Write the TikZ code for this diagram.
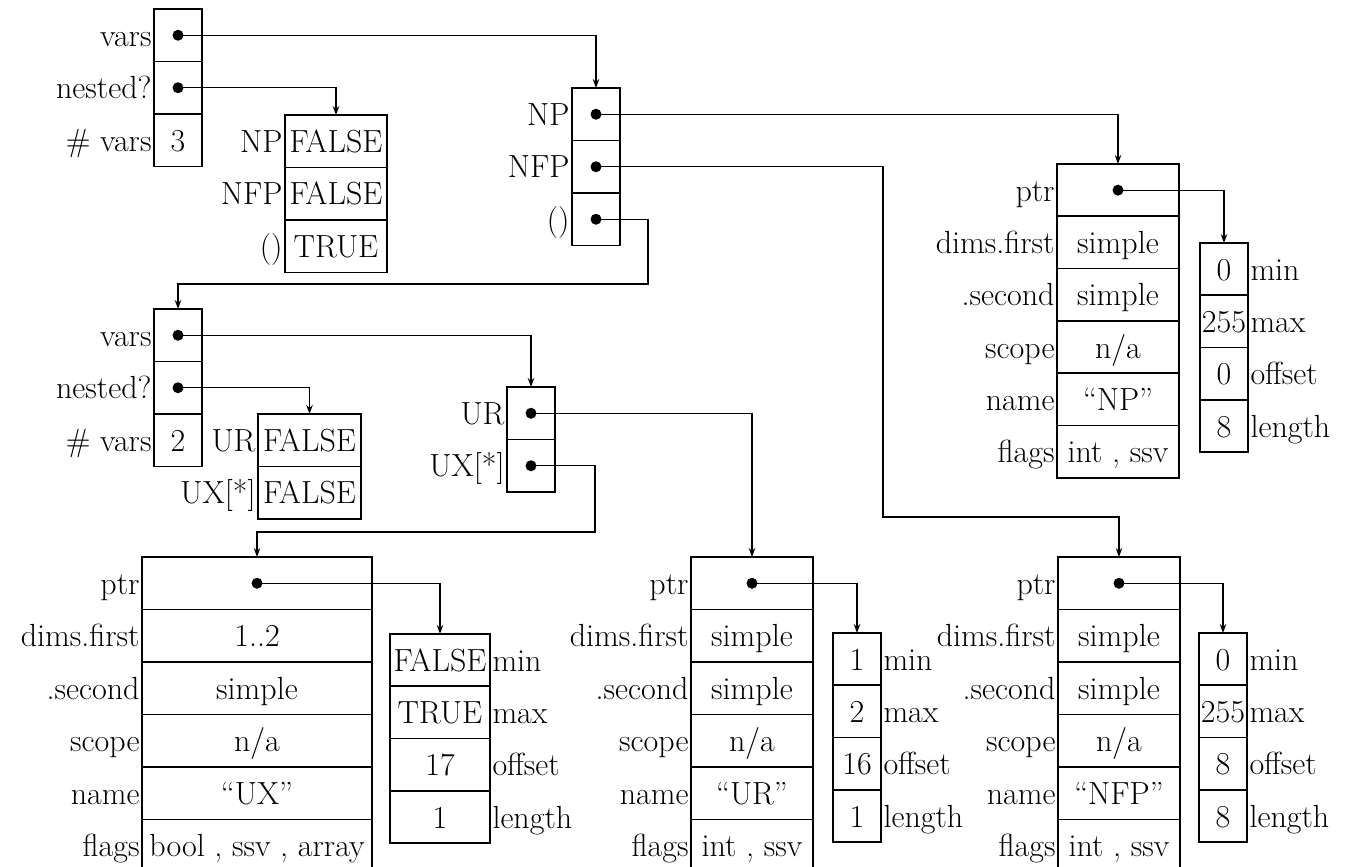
\documentclass[tikz,border=0pt]{standalone}
\usetikzlibrary{arrows.meta}
\newcommand\dgfont{\fontsize{32}{38}\selectfont}
\begin{document}
\begin{tikzpicture}[x=1pt,y=-1pt,
  cell/.style={draw, line width=1.7pt, rectangle, inner sep=0pt, outer sep=0pt,
    minimum height=52.5pt, text height=23pt, text depth=1pt, font=\dgfont},
  cellr/.style={cell, minimum height=52.3pt},
  narrow/.style={minimum width=48pt},
  boolw/.style={minimum width=102pt},
  wide/.style={minimum width=122pt},
  big/.style={minimum width=230pt},
  rng/.style={minimum width=100pt},
  lab/.style={inner xsep=2.5pt, inner ysep=0pt, outer sep=0pt, text height=23pt, text depth=1pt, font=\dgfont},
  labl/.style={lab, anchor=east},
  labr/.style={lab, anchor=west},
  ptr/.style={line width=1.3pt, -{Stealth[length=9pt,width=6.5pt]}},
  dot/.style={fill, circle, inner sep=0pt, minimum size=11pt}
]
\path[use as bounding box] (0,0) rectangle (1353,867);
\clip (0,0) rectangle (1353,867);

% ---- block A
\node[cell,narrow] (A1) at (178,35.25) {};
\node[cell,narrow] (A2) at (178,87.75) {};
\node[cell,narrow] (A3) at (178,140.25) {3};
\node[labl] (lA1) at (A1.west) {vars};
\node[labl] (lA2) at (A2.west) {nested?};
\node[labl] (lA3) at (A3.west) {\# vars};
\node[dot] (pA1) at (A1.center) {};
\node[dot] (pA2) at (A2.center) {};

% ---- block B
\node[cell,boolw] (B1) at (336,141.25) {FALSE};
\node[cell,boolw] (B2) at (336,193.75) {FALSE};
\node[cell,boolw] (B3) at (336,246.25) {TRUE};
\node[labl] (lB1) at (B1.west) {NP};
\node[labl] (lB2) at (B2.west) {NFP};
\node[labl] (lB3) at (B3.west) {()};

% ---- block C
\node[cell,narrow] (C1) at (596,114.25) {};
\node[cell,narrow] (C2) at (596,166.75) {};
\node[cell,narrow] (C3) at (596,219.25) {};
\node[labl] (lC1) at (C1.west) {NP};
\node[labl] (lC2) at (C2.west) {NFP};
\node[labl] (lC3) at (C3.west) {()};
\node[dot] (pC1) at (C1.center) {};
\node[dot] (pC2) at (C2.center) {};
\node[dot] (pC3) at (C3.center) {};

% ---- block E
\node[cell,narrow] (E1) at (178,335.25) {};
\node[cell,narrow] (E2) at (178,387.75) {};
\node[cell,narrow] (E3) at (178,440.25) {2};
\node[labl] (lE1) at (E1.west) {vars};
\node[labl] (lE2) at (E2.west) {nested?};
\node[labl] (lE3) at (E3.west) {\# vars};
\node[dot] (pE1) at (E1.center) {};
\node[dot] (pE2) at (E2.center) {};

% ---- block F
\node[cell,minimum width=103pt] (F1) at (309.5,440.25) {FALSE};
\node[cell,minimum width=103pt] (F2) at (309.5,492.75) {FALSE};
\node[labl] (lF1) at (F1.west) {UR};
\node[labl] (lF2) at (F2.west) {UX[*]};

% ---- block D
\node[cell,narrow] (D1) at (531,413.25) {};
\node[cell,narrow] (D2) at (531,465.75) {};
\node[labl] (lD1) at (D1.west) {UR};
\node[labl] (lD2) at (D2.west) {UX[*]};
\node[dot] (pD1) at (D1.center) {};
\node[dot] (pD2) at (D2.center) {};

% ---- struct G (UX)
\node[cell,big] (G1) at (257,583.25) {};
\node[cell,big] (G2) at (257,635.75) {1..2};
\node[cell,big] (G3) at (257,688.25) {simple};
\node[cell,big] (G4) at (257,740.75) {n/a};
\node[cell,big] (G5) at (257,793.25) {``UX''};
\node[cell,big] (G6) at (257,845.75) {bool , ssv , array};
\node[labl] (lG1) at (G1.west) {ptr};
\node[labl] (lG2) at (G2.west) {dims.first};
\node[labl] (lG3) at (G3.west) {.second};
\node[labl] (lG4) at (G4.west) {scope};
\node[labl] (lG5) at (G5.west) {name};
\node[labl] (lG6) at (G6.west) {flags};
\node[dot] (pG1) at (G1.center) {};

% ---- range H
\node[cellr,rng] (H1) at (440,660.15) {FALSE};
\node[cellr,rng] (H2) at (440,712.45) {TRUE};
\node[cellr,rng] (H3) at (440,764.75) {17};
\node[cellr,rng] (H4) at (440,817.05) {1};
\node[labr] (rH1) at (H1.east) {min};
\node[labr] (rH2) at (H2.east) {max};
\node[labr] (rH3) at (H3.east) {offset};
\node[labr] (rH4) at (H4.east) {length};

% ---- struct I (UR)
\node[cell,wide] (I1) at (752,583.25) {};
\node[cell,wide] (I2) at (752,635.75) {simple};
\node[cell,wide] (I3) at (752,688.25) {simple};
\node[cell,wide] (I4) at (752,740.75) {n/a};
\node[cell,wide] (I5) at (752,793.25) {``UR''};
\node[cell,wide] (I6) at (752,845.75) {int , ssv};
\node[labl] (lI1) at (I1.west) {ptr};
\node[labl] (lI2) at (I2.west) {dims.first};
\node[labl] (lI3) at (I3.west) {.second};
\node[labl] (lI4) at (I4.west) {scope};
\node[labl] (lI5) at (I5.west) {name};
\node[labl] (lI6) at (I6.west) {flags};
\node[dot] (pI1) at (I1.center) {};

% ---- range J
\node[cellr,narrow] (J1) at (857,659.15) {1};
\node[cellr,narrow] (J2) at (857,711.45) {2};
\node[cellr,narrow] (J3) at (857,763.75) {16};
\node[cellr,narrow] (J4) at (857,816.05) {1};
\node[labr] (rJ1) at (J1.east) {min};
\node[labr] (rJ2) at (J2.east) {max};
\node[labr] (rJ3) at (J3.east) {offset};
\node[labr] (rJ4) at (J4.east) {length};

% ---- struct K (NFP)
\node[cell,wide] (K1) at (1119,583.25) {};
\node[cell,wide] (K2) at (1119,635.75) {simple};
\node[cell,wide] (K3) at (1119,688.25) {simple};
\node[cell,wide] (K4) at (1119,740.75) {n/a};
\node[cell,wide] (K5) at (1119,793.25) {``NFP''};
\node[cell,wide] (K6) at (1119,845.75) {int , ssv};
\node[labl] (lK1) at (K1.west) {ptr};
\node[labl] (lK2) at (K2.west) {dims.first};
\node[labl] (lK3) at (K3.west) {.second};
\node[labl] (lK4) at (K4.west) {scope};
\node[labl] (lK5) at (K5.west) {name};
\node[labl] (lK6) at (K6.west) {flags};
\node[dot] (pK1) at (K1.center) {};

% ---- range L
\node[cellr,narrow] (L1) at (1223,659.15) {0};
\node[cellr,narrow] (L2) at (1223,711.45) {255};
\node[cellr,narrow] (L3) at (1223,763.75) {8};
\node[cellr,narrow] (L4) at (1223,816.05) {8};
\node[labr] (rL1) at (L1.east) {min};
\node[labr] (rL2) at (L2.east) {max};
\node[labr] (rL3) at (L3.east) {offset};
\node[labr] (rL4) at (L4.east) {length};

% ---- struct M (NP)
\node[cellr,wide] (M1) at (1118,190.15) {};
\node[cellr,wide] (M2) at (1118,242.45) {simple};
\node[cellr,wide] (M3) at (1118,294.75) {simple};
\node[cellr,wide] (M4) at (1118,347.05) {n/a};
\node[cellr,wide] (M5) at (1118,399.35) {``NP''};
\node[cellr,wide] (M6) at (1118,451.65) {int , ssv};
\node[labl] (lM1) at (M1.west) {ptr};
\node[labl] (lM2) at (M2.west) {dims.first};
\node[labl] (lM3) at (M3.west) {.second};
\node[labl] (lM4) at (M4.west) {scope};
\node[labl] (lM5) at (M5.west) {name};
\node[labl] (lM6) at (M6.west) {flags};
\node[dot] (pM1) at (M1.center) {};

% ---- range N
\node[cellr,narrow] (N1) at (1224,269.15) {0};
\node[cellr,narrow] (N2) at (1224,321.45) {255};
\node[cellr,narrow] (N3) at (1224,373.75) {0};
\node[cellr,narrow] (N4) at (1224,426.05) {8};
\node[labr] (rN1) at (N1.east) {min};
\node[labr] (rN2) at (N2.east) {max};
\node[labr] (rN3) at (N3.east) {offset};
\node[labr] (rN4) at (N4.east) {length};

% ---- bend points
\coordinate (k1) at (648,284);
\coordinate (k2) at (595,532);
\coordinate (k3) at (883,517);

% ---- connectors
\draw[ptr] (pA1.center) -| (C1.north);
\draw[ptr] (pA2.center) -| (B1.north);
\draw[ptr] (pC1.center) -| (M1.north);
\draw[ptr] (pC2.center) -| (k3) -| (K1.north);
\draw[ptr] (pC3.center) -| (k1) -| (E1.north);
\draw[ptr] (pE1.center) -| (D1.north);
\draw[ptr] (pE2.center) -| (F1.north);
\draw[ptr] (pD1.center) -| (I1.north);
\draw[ptr] (pD2.center) -| (k2) -| (G1.north);
\draw[ptr] (pG1.center) -| (H1.north);
\draw[ptr] (pI1.center) -| (J1.north);
\draw[ptr] (pK1.center) -| (L1.north);
\draw[ptr] (pM1.center) -| (N1.north);
\end{tikzpicture}
\end{document}
